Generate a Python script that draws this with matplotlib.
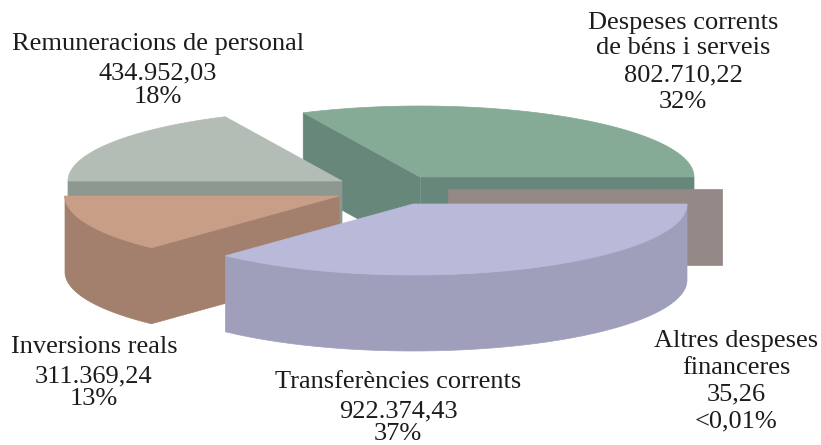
import numpy as np
import matplotlib
matplotlib.use('Agg')
import matplotlib.pyplot as plt
from matplotlib.patches import Polygon

# Slice order runs clockwise from the right edge of the pie
names = ['Transferències corrents', 'Inversions reals', 'Remuneracions de personal',
         'Despeses corrents de béns i serveis', 'Altres despeses financeres']
values = [922374.43, 311369.24, 434952.03, 802710.22, 35.26]
shares = [37, 13, 18, 32, 0.01]
top_colors = ['#B9BADA', '#C99E87', '#B4BDB5', '#85AA96', '#A69B98']
side_colors = ['#9F9FBB', '#A37F6E', '#8D9890', '#66877A', '#948986']
centers = [(413, 204), (339, 196), (342, 181), (420, 177), (448, 189)]

RX = 274
RY = 71
DEPTH = 76

label_lines = [
    ['Transferències corrents', '922.374,43', '37%'],
    ['Inversions reals', '311.369,24', '13%'],
    ['Remuneracions de personal', '434.952,03', '18%'],
    ['Despeses corrents', 'de béns i serveis', '802.710,22', '32%'],
    ['Altres despeses', 'financeres', '35,26', '<0,01%'],
]
label_x = [398, 94, 158, 683, 736]
label_base = [
    [388, 417, 440],
    [353, 382, 405],
    [50, 79, 103],
    [29, 54, 81, 108],
    [347, 374, 400, 427],
]


def rim(c, a, b, n=120):
    t = np.radians(np.linspace(a, b, n))
    return np.column_stack([c[0] + RX * np.cos(t), c[1] + RY * np.sin(t)])


def radial_face(ax, c, ang, color):
    p = rim(c, ang, ang, 1)[0]
    pts = [c, p, (p[0], p[1] + DEPTH), (c[0], c[1] + DEPTH)]
    ax.add_patch(Polygon(pts, closed=True, fc=color, ec=color, lw=0.5))


def outer_wall(ax, c, a, b, color):
    a, b = max(a, 0), min(b, 180)
    if a >= b:
        return
    r = rim(c, a, b)
    low = r[::-1] + [0, DEPTH]
    ax.add_patch(Polygon(np.vstack([r, low]), closed=True, fc=color, ec=color, lw=0.5))


fig = plt.figure(figsize=(8.21, 4.45), dpi=100)
ax = fig.add_axes([0, 0, 1, 1])
ax.set_xlim(0, 821)
ax.set_ylim(445, 0)
ax.axis('off')

edges = np.concatenate([[0], np.cumsum(shares) / np.sum(shares) * 360])

# Back slices first, the front one last
for i in [3, 4, 2, 1, 0]:
    a, b = edges[i], edges[i + 1]
    c = centers[i]
    if i == 4:
        radial_face(ax, c, b, side_colors[i])
        continue
    if i == 3:
        radial_face(ax, c, a, side_colors[i])
        radial_face(ax, c, b, side_colors[i])
        ax.plot([c[0], c[0]], [c[1], c[1] + DEPTH], color='#7A9A8A', lw=0.6, zorder=1)
    if i == 2 or i == 1:
        radial_face(ax, c, a, side_colors[i])
    outer_wall(ax, c, a, b, side_colors[i])
    top = np.vstack([[c], rim(c, a, b)])
    ax.add_patch(Polygon(top, closed=True, fc=top_colors[i], ec=top_colors[i], lw=0.5))

for lines, x, ys in zip(label_lines, label_x, label_base):
    for line, y in zip(lines, ys):
        ax.text(x, y, line, ha='center', va='baseline', fontsize=19,
                family='Liberation Serif', color='#1c1c1c', zorder=5)

fig.savefig('out.png', dpi=100)
